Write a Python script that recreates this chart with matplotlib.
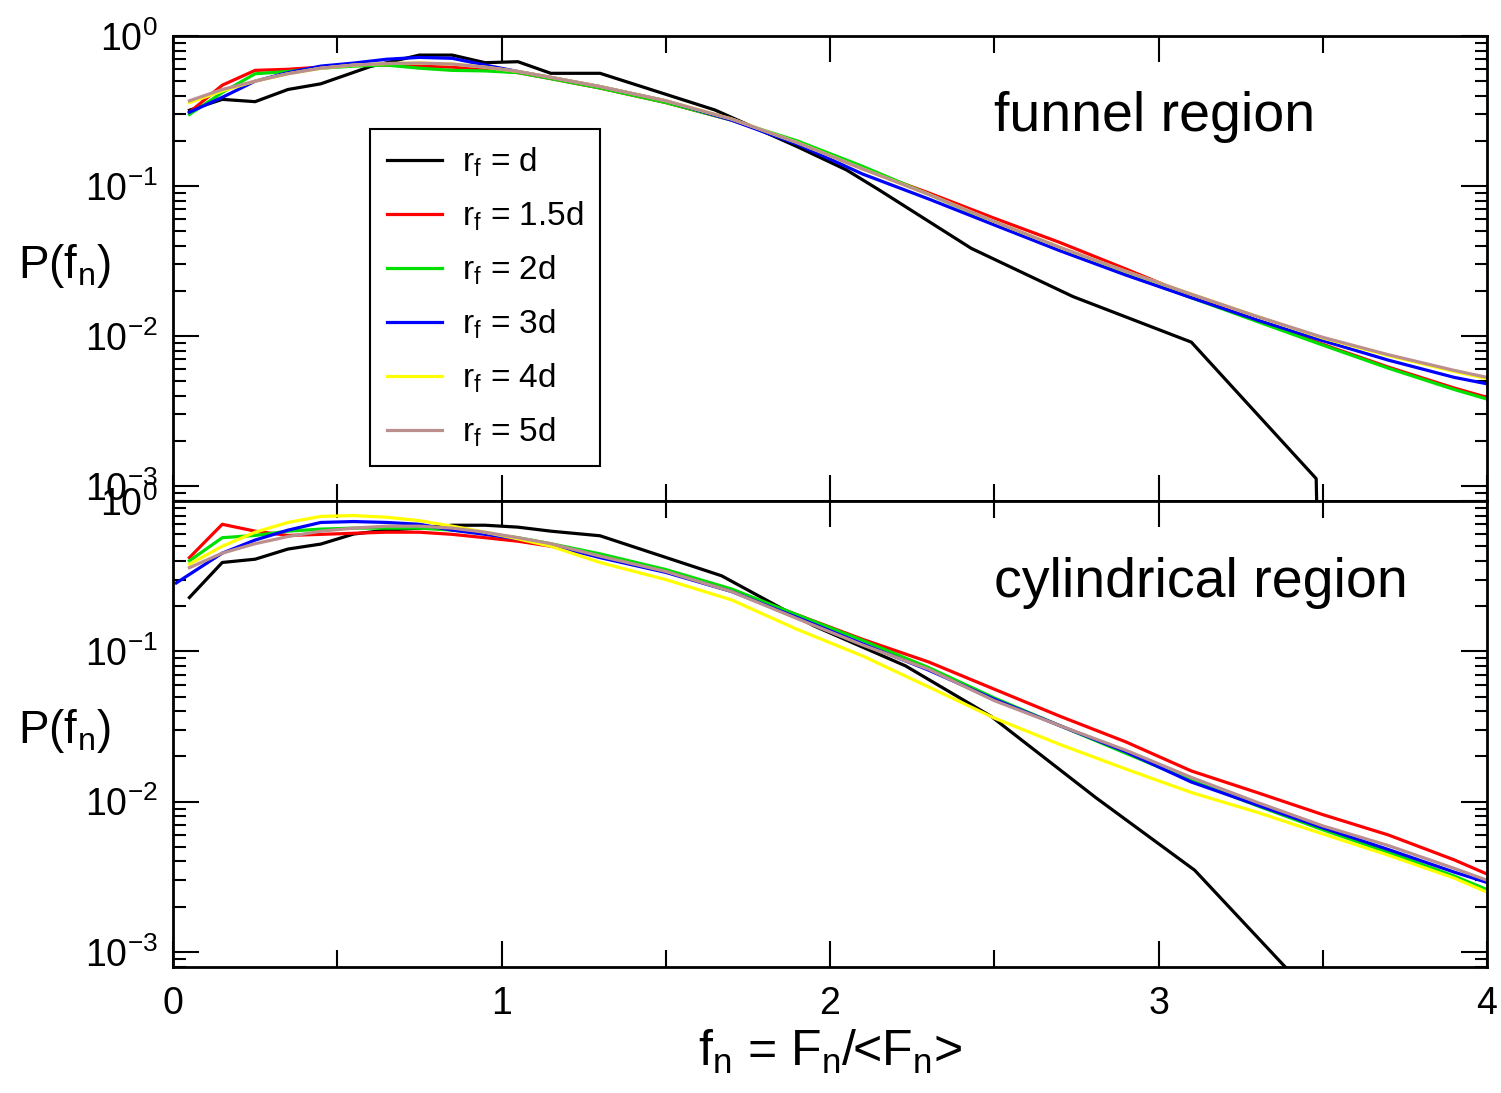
import matplotlib
matplotlib.use('Agg')
import matplotlib.pyplot as plt
from matplotlib.ticker import LogLocator, MultipleLocator, NullFormatter

plt.rcParams['font.family'] = ['Liberation Sans', 'DejaVu Sans']
plt.rcParams['mathtext.fontset'] = 'custom'
plt.rcParams['mathtext.rm'] = 'Liberation Sans'
plt.rcParams['mathtext.it'] = 'Liberation Sans:italic'
plt.rcParams['mathtext.bf'] = 'Liberation Sans:bold'
plt.rcParams['axes.unicode_minus'] = False

# common f_n grid for the coloured curves
fx = [0.05, 0.15, 0.25, 0.35, 0.45, 0.55, 0.65, 0.75, 0.85, 0.95, 1.05, 1.15,
      1.3, 1.5, 1.7, 1.9, 2.1, 2.3, 2.5, 2.7, 2.9, 3.1, 3.3, 3.5, 3.7, 3.9, 4.0]

# ---- funnel region (top panel) ----
funnel_d_x = [0.05, 0.15, 0.25, 0.35, 0.45, 0.6, 0.75, 0.85, 0.95, 1.05, 1.15,
              1.3, 1.65, 1.9, 2.05, 2.15, 2.43, 2.74, 3.1, 3.48, 3.5]
funnel_d = [0.32, 0.378, 0.365, 0.44, 0.48, 0.625, 0.746, 0.746, 0.664, 0.674, 0.564,
            0.564, 0.321, 0.183, 0.128, 0.094, 0.0384, 0.0183, 0.0091, 0.00112, 1e-5]
funnel_15d = [0.31, 0.47, 0.59, 0.60, 0.62, 0.64, 0.64, 0.63, 0.62, 0.60, 0.57, 0.52,
              0.45, 0.36, 0.275, 0.195, 0.13, 0.09, 0.061, 0.042, 0.028, 0.0185, 0.0127,
              0.0088, 0.0062, 0.0045, 0.0039]
funnel_2d = [0.30, 0.42, 0.56, 0.58, 0.61, 0.63, 0.64, 0.61, 0.59, 0.585, 0.57, 0.52,
             0.45, 0.36, 0.275, 0.2, 0.135, 0.088, 0.057, 0.038, 0.026, 0.018, 0.0125,
             0.0087, 0.0061, 0.0044, 0.0038]
funnel_3d = [0.31, 0.39, 0.50, 0.57, 0.63, 0.66, 0.70, 0.72, 0.71, 0.64, 0.58, 0.53,
             0.46, 0.37, 0.275, 0.19, 0.12, 0.082, 0.055, 0.037, 0.0255, 0.018, 0.0128,
             0.0093, 0.0069, 0.0053, 0.0048]
funnel_4d = [0.36, 0.43, 0.50, 0.56, 0.61, 0.64, 0.655, 0.66, 0.65, 0.62, 0.58, 0.53,
             0.46, 0.37, 0.28, 0.195, 0.13, 0.088, 0.058, 0.039, 0.027, 0.019, 0.0135,
             0.0097, 0.0074, 0.0058, 0.0052]
funnel_5d = [0.37, 0.44, 0.50, 0.56, 0.61, 0.64, 0.655, 0.66, 0.65, 0.62, 0.58, 0.53,
             0.46, 0.37, 0.28, 0.195, 0.13, 0.088, 0.058, 0.039, 0.027, 0.019, 0.0135,
             0.0098, 0.0075, 0.0059, 0.0053]

# ---- cylindrical region (bottom panel) ----
cyl_d_x = [0.05, 0.15, 0.25, 0.35, 0.45, 0.55, 0.65, 0.75, 0.85, 0.95, 1.05, 1.15,
           1.3, 1.67, 1.95, 2.23, 2.49, 2.81, 3.11, 3.5]
cyl_d = [0.228, 0.39, 0.41, 0.479, 0.517, 0.603, 0.64, 0.66, 0.69, 0.69, 0.67, 0.63,
         0.587, 0.318, 0.148, 0.08, 0.037, 0.0106, 0.0035, 0.00043]
cyl_15d = [0.42, 0.70, 0.63, 0.59, 0.60, 0.61, 0.62, 0.62, 0.60, 0.57, 0.54, 0.50,
           0.43, 0.34, 0.255, 0.175, 0.12, 0.085, 0.056, 0.037, 0.025, 0.016, 0.0115,
           0.0082, 0.006, 0.0041, 0.0033]
cyl_2d = [0.40, 0.57, 0.59, 0.63, 0.65, 0.66, 0.66, 0.66, 0.64, 0.61, 0.57, 0.52,
          0.445, 0.35, 0.26, 0.175, 0.118, 0.078, 0.049, 0.032, 0.021, 0.0138, 0.0094,
          0.0065, 0.0046, 0.0032, 0.0026]
cyl_3d_x = [0.01] + fx[1:]
cyl_3d = [0.285, 0.45, 0.55, 0.64, 0.72, 0.73, 0.72, 0.70, 0.64, 0.60, 0.56, 0.51,
          0.42, 0.335, 0.25, 0.168, 0.112, 0.075, 0.048, 0.032, 0.0215, 0.0135, 0.0095,
          0.0067, 0.0048, 0.0034, 0.0029]
cyl_4d = [0.38, 0.50, 0.62, 0.72, 0.79, 0.80, 0.78, 0.74, 0.68, 0.62, 0.56, 0.50,
          0.39, 0.30, 0.22, 0.14, 0.093, 0.058, 0.036, 0.024, 0.0165, 0.0115, 0.0085,
          0.0061, 0.0044, 0.0031, 0.0025]
cyl_5d = [0.36, 0.45, 0.52, 0.58, 0.63, 0.66, 0.68, 0.68, 0.66, 0.62, 0.57, 0.52,
          0.43, 0.34, 0.25, 0.165, 0.11, 0.076, 0.047, 0.032, 0.022, 0.0145, 0.0099,
          0.0069, 0.0051, 0.0036, 0.003]

labels = [r'$\mathrm{r_f}$ = d', r'$\mathrm{r_f}$ = 1.5d', r'$\mathrm{r_f}$ = 2d',
          r'$\mathrm{r_f}$ = 3d', r'$\mathrm{r_f}$ = 4d', r'$\mathrm{r_f}$ = 5d']
colors = ['black', '#ff0000', '#00e000', '#0000ff', '#ffff00', '#bc8f8f']

panels = [
    ('funnel region', [(funnel_d_x, funnel_d), (fx, funnel_15d), (fx, funnel_2d),
                       (fx, funnel_3d), (fx, funnel_4d), (fx, funnel_5d)]),
    ('cylindrical region', [(cyl_d_x, cyl_d), (fx, cyl_15d), (fx, cyl_2d),
                            (cyl_3d_x, cyl_3d), (fx, cyl_4d), (fx, cyl_5d)]),
]

W, H = 1501, 1093
fig = plt.figure(figsize=(W / 100, H / 100), dpi=100)
left, right = 173 / W, 1487 / W
ax1 = fig.add_axes([left, 1 - 501 / H, right - left, 465 / H])
ax2 = fig.add_axes([left, 1 - 967 / H, right - left, 466 / H])

for ax, (title, series) in zip([ax1, ax2], panels):
    for (xs, ys), c, lab in zip(series, colors, labels):
        ax.plot(xs, ys, color=c, lw=2.3, label=lab)
    ax.set_yscale('log')
    ax.set_xlim(0, 4)
    ax.set_ylim(10 ** -3.1, 1.0)
    ax.xaxis.set_major_locator(MultipleLocator(1))
    ax.xaxis.set_minor_locator(MultipleLocator(0.5))
    ax.yaxis.set_major_locator(LogLocator(base=10, numticks=10))
    ax.yaxis.set_minor_locator(LogLocator(base=10, subs=range(2, 10), numticks=20))
    ax.yaxis.set_minor_formatter(NullFormatter())
    ax.tick_params(which='both', direction='in', top=True, right=True, width=1.5,
                   colors='black', labelsize=27)
    ax.tick_params(axis='y', which='major', length=19, pad=11)
    ax.tick_params(axis='y', which='minor', length=9)
    ax.tick_params(axis='x', which='major', length=19, pad=14)
    ax.tick_params(axis='x', which='minor', length=12)
    for s in ax.spines.values():
        s.set_linewidth(2)
    ax.text(0.625, 0.795, title, transform=ax.transAxes, fontsize=40,
            ha='left', va='baseline')

ax1.tick_params(axis='x', labelbottom=False)

leg = ax1.legend(loc='upper left', bbox_to_anchor=(0.15, 0.80), fontsize=24,
                 frameon=True, fancybox=False, edgecolor='black', framealpha=1,
                 handlelength=1.65, handletextpad=0.6, labelspacing=0.62,
                 borderpad=0.5, borderaxespad=0)
leg.get_frame().set_linewidth(1.5)

fig.text(0.012, 1 - 278 / H, r'$\mathrm{P(f_n)}$', fontsize=33, ha='left', va='baseline')
fig.text(0.012, 1 - 743 / H, r'$\mathrm{P(f_n)}$', fontsize=33, ha='left', va='baseline')
fig.text(830 / W, 1 - 1066 / H, r'$\mathrm{f_n}$ = $\mathrm{F_n}$/<$\mathrm{F_n}$>',
         fontsize=36, ha='center', va='baseline')

fig.savefig('out.png', dpi=100, facecolor='white')
